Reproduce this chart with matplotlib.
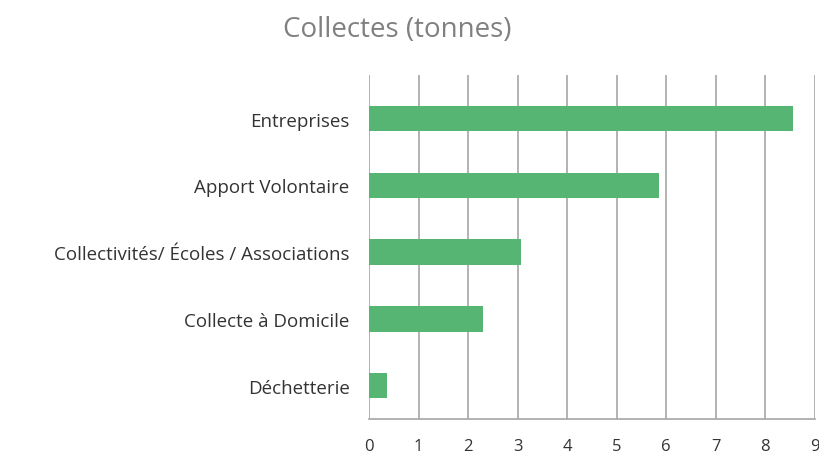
import matplotlib.pyplot as plt

plt.rcParams['font.family'] = ['Open Sans', 'DejaVu Sans']

# Données
categories = ['Entreprises', 'Apport Volontaire', 'Collectivités/ Écoles / Associations',
              'Collecte à Domicile', 'Déchetterie']
tonnes = [8.55, 5.86, 3.07, 2.3, 0.36]
xticks = list(range(0, 10))

fig = plt.figure(figsize=(8.19, 4.56), dpi=100)
ax = fig.add_axes([0.4505, 0.079, 0.5445, 0.754])

ypos = list(range(len(categories)))
ax.barh(ypos, tonnes, height=0.38, color='#57b573', zorder=3)
ax.set_yticks(ypos)
ax.set_yticklabels(categories, fontsize=13.5, color='#333333')
ax.invert_yaxis()
ax.set_ylim(4.5, -0.65)

ax.set_xlim(0, 9)
ax.set_xticks(xticks)
ax.tick_params(axis='x', labelsize=12, colors='#333333', length=0, pad=14)
ax.tick_params(axis='y', length=0, pad=14)
ax.grid(axis='x', color='#a6a6a6', linewidth=1.2, zorder=0)

for s in ['top', 'right', 'left']:
    ax.spines[s].set_visible(False)
ax.spines['bottom'].set_color('#a6a6a6')
ax.spines['bottom'].set_linewidth(1.2)

fig.text(0.485, 0.935, 'Collectes (tonnes)', ha='center', va='center',
         fontsize=20, color='#808080')

fig.savefig('out.png', dpi=100)
